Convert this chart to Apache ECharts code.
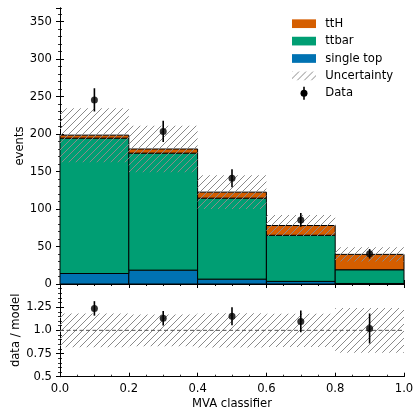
<!DOCTYPE html>
<html>
<head>
<meta charset="utf-8">
<script src="https://cdn.jsdelivr.net/npm/echarts@6/dist/echarts.min.js"></script>
<style>html,body{margin:0;padding:0;background:#fff}#c{width:413px;height:410px}</style>
</head>
<body>
<div id="c"></div>
<script>
// ---- data ----
const binEdges   = [0.0, 0.2, 0.4, 0.6, 0.8, 1.0];
const singleTop  = [14, 18.5, 6.5, 3.5, 0.7];
const ttbar      = [180.5, 156, 108, 61.5, 18.3];
const ttH        = [4, 5.5, 8, 13, 20.5];
const dataCounts = [245.5, 203.5, 141, 85.5, 40.3];
const dataErr    = [15.5, 14.3, 11.9, 9.2, 6.4];
const modelUnc   = [36, 31, 22.5, 14, 9.5];
const legendNames = ['ttH', 'ttbar', 'single top', 'Uncertainty', 'Data'];

const COL = { ttH: '#d55e00', ttbar: '#009e73', st: '#0072b2' };
const FONT = 'DejaVu Sans';
const FS = 11.6;

function makeHatch() {
  const s = 7;
  const c = document.createElement('canvas');
  c.width = s; c.height = s;
  const ctx = c.getContext('2d');
  ctx.strokeStyle = '#8a8a8a';
  ctx.lineWidth = 1;
  ctx.beginPath();
  ctx.moveTo(0, s); ctx.lineTo(s, 0);
  ctx.moveTo(-1, 1); ctx.lineTo(1, -1);
  ctx.moveTo(s - 1, s + 1); ctx.lineTo(s + 1, s - 1);
  ctx.stroke();
  return c;
}
const hatch = { image: makeHatch(), repeat: 'repeat' };

// derived tables
const nb = singleTop.length;
const centers = [], totals = [];
for (let i = 0; i < nb; i++) {
  centers.push((binEdges[i] + binEdges[i + 1]) / 2);
  totals.push(singleTop[i] + ttbar[i] + ttH[i]);
}
function stackRows(lowArr, valArr) {
  return valArr.map((v, i) => [binEdges[i], binEdges[i + 1], lowArr[i], lowArr[i] + v]);
}
const zeros = singleTop.map(() => 0);
const stRows = stackRows(zeros, singleTop);
const ttbarRows = stackRows(singleTop, ttbar);
const ttHRows = stackRows(singleTop.map((v, i) => v + ttbar[i]), ttH);
const uncRows = totals.map((t, i) => [binEdges[i], binEdges[i + 1], t - modelUnc[i], t + modelUnc[i]]);
const ratioUncRows = totals.map((t, i) => [binEdges[i], binEdges[i + 1], 1 - modelUnc[i] / t, 1 + modelUnc[i] / t]);
const dataPts = centers.map((c, i) => [c, dataCounts[i]]);
const dataBars = centers.map((c, i) => [c, dataCounts[i] - dataErr[i], dataCounts[i] + dataErr[i]]);
const ratioPts = centers.map((c, i) => [c, dataCounts[i] / totals[i]]);
const ratioBars = centers.map((c, i) => [c, (dataCounts[i] - dataErr[i]) / totals[i], (dataCounts[i] + dataErr[i]) / totals[i]]);

function rectSeries(name, rows, fill, stroke, gi, z) {
  return {
    name: name, type: 'custom', xAxisIndex: gi * 2, yAxisIndex: gi * 2, z: z,
    data: rows, encode: { x: [0, 1], y: [2, 3] },
    itemStyle: { color: fill },
    silent: true,
    renderItem: function (params, api) {
      const p0 = api.coord([api.value(0), api.value(3)]);
      const p1 = api.coord([api.value(1), api.value(2)]);
      return {
        type: 'rect',
        shape: { x: p0[0], y: p0[1], width: p1[0] - p0[0], height: p1[1] - p0[1] },
        style: stroke ? { fill: fill, stroke: '#000', lineWidth: 1 } : { fill: fill }
      };
    }
  };
}
function errSeries(rows, gi) {
  return {
    type: 'custom', xAxisIndex: gi * 2, yAxisIndex: gi * 2, z: 5, silent: true,
    data: rows, encode: { x: 0, y: [1, 2] },
    renderItem: function (params, api) {
      const a = api.coord([api.value(0), api.value(1)]);
      const b = api.coord([api.value(0), api.value(2)]);
      return { type: 'line', shape: { x1: a[0], y1: a[1], x2: b[0], y2: b[1] },
               style: { stroke: '#000', lineWidth: 1.6 } };
    }
  };
}

const L = 60, R = 9, T1 = 8, H1 = 276, T2 = 284, H2 = 92.7;
const tickCommon = { show: true, inside: true, length: 4, lineStyle: { color: '#000', width: 1 } };
const lineCommon = { show: true, lineStyle: { color: '#000', width: 1 } };
const lbl = { color: '#000', fontFamily: FONT, fontSize: FS };

function mainAxis(gi, pos, min, max, interval, extra) {
  return Object.assign({
    type: 'value', gridIndex: gi, position: pos, min: min, max: max, interval: interval,
    axisLine: lineCommon, axisTick: tickCommon, minorTick: { show: false },
    splitLine: { show: false }, axisLabel: { show: false }
  }, extra || {});
}
function minorAxis(gi, pos, min, max, interval) {
  return {
    type: 'value', gridIndex: gi, position: pos, min: min, max: max, interval: interval,
    axisLine: { show: false },
    axisTick: { show: true, inside: true, length: 2, lineStyle: { color: '#000', width: 0.8 } },
    splitLine: { show: false }, axisLabel: { show: false }, silent: true
  };
}

const option = {
  animation: false,
  backgroundColor: '#fff',
  grid: [
    { left: L, right: R, top: T1, height: H1, outerBoundsMode: 'none', containLabel: false },
    { left: L, right: R, top: T2, height: H2, outerBoundsMode: 'none', containLabel: false }
  ],
  xAxis: [
    mainAxis(0, 'bottom', 0, 1, 0.2),
    mainAxis(0, 'top', 0, 1, 0.2),
    mainAxis(1, 'bottom', 0, 1, 0.2, {
      axisLabel: Object.assign({ show: true, margin: 6, formatter: v => v.toFixed(1) }, lbl),
      name: 'MVA classifier', nameLocation: 'middle', nameGap: 21, nameMoveOverlap: false, nameTextStyle: lbl }),
    mainAxis(1, 'top', 0, 1, 0.2),
    minorAxis(0, 'bottom', 0, 1, 0.05),
    minorAxis(0, 'top', 0, 1, 0.05),
    minorAxis(1, 'bottom', 0, 1, 0.05),
    minorAxis(1, 'top', 0, 1, 0.05)
  ],
  yAxis: [
    mainAxis(0, 'left', 0, 368, 50, {
      axisLabel: Object.assign({ show: true, margin: 8, showMaxLabel: false }, lbl),
      name: 'events', nameLocation: 'middle', nameGap: 34, nameMoveOverlap: false, nameTextStyle: lbl }),
    mainAxis(0, 'right', 0, 368, 50),
    mainAxis(1, 'left', 0.5, 1.5, 0.25, {
      axisLabel: Object.assign({ show: true, margin: 8, showMaxLabel: false, formatter: v => (v === 1 ? '1.0' : String(v)) }, lbl),
      name: 'data / model', nameLocation: 'middle', nameGap: 38, nameMoveOverlap: false, nameTextStyle: lbl }),
    mainAxis(1, 'right', 0.5, 1.5, 0.25),
    minorAxis(0, 'left', 0, 368, 10),
    minorAxis(0, 'right', 0, 368, 10),
    minorAxis(1, 'left', 0.5, 1.5, 0.05),
    minorAxis(1, 'right', 0.5, 1.5, 0.05)
  ],
  series: [
    rectSeries('single top', stRows, COL.st, true, 0, 2),
    rectSeries('ttbar', ttbarRows, COL.ttbar, true, 0, 2),
    rectSeries('ttH', ttHRows, COL.ttH, true, 0, 2),
    rectSeries('Uncertainty', uncRows, hatch, false, 0, 3),
    errSeries(dataBars, 0),
    { name: 'Data', type: 'scatter', xAxisIndex: 0, yAxisIndex: 0, z: 6, silent: true,
      data: dataPts, symbol: 'circle', symbolSize: 7, itemStyle: { color: '#000' } },
    rectSeries('ratioUnc', ratioUncRows, hatch, false, 1, 3),
    { type: 'line', xAxisIndex: 2, yAxisIndex: 2, z: 4, silent: true, data: [[0, 1], [1, 1]],
      symbol: 'none', lineStyle: { color: '#555', width: 1, type: [4, 2.5] } },
    errSeries(ratioBars, 1),
    { type: 'scatter', xAxisIndex: 2, yAxisIndex: 2, z: 6, silent: true,
      data: ratioPts, symbol: 'circle', symbolSize: 7, itemStyle: { color: '#000' } }
  ],
  graphic: (function () {
    const els = [];
    const x0 = 292, w = 24, h = 8.7, tx = 325.3, y0 = 23.7, dy = 17.4;
    const fills = [COL.ttH, COL.ttbar, COL.st, hatch];
    legendNames.forEach((nm, i) => {
      const cy = y0 + i * dy;
      if (i < 4) {
        els.push({ type: 'rect', left: x0, top: cy - h / 2, shape: { width: w, height: h },
                   style: { fill: fills[i] }, silent: true });
      } else {
        els.push({ type: 'line', shape: { x1: x0 + w / 2, y1: cy - 6.5, x2: x0 + w / 2, y2: cy + 6.5 },
                   style: { stroke: '#000', lineWidth: 1.6 }, silent: true });
        els.push({ type: 'circle', shape: { cx: x0 + w / 2, cy: cy, r: 3.5 },
                   style: { fill: '#000' }, silent: true });
      }
      els.push({ type: 'text', x: tx, y: cy, silent: true,
                 style: { text: nm, fill: '#000', font: FS + 'px "' + FONT + '"', verticalAlign: 'middle', align: 'left' } });
    });
    return els;
  })()
};

const chart = echarts.init(document.getElementById('c'), null, { renderer: 'canvas' });
chart.setOption(option);
</script>
</body>
</html>
